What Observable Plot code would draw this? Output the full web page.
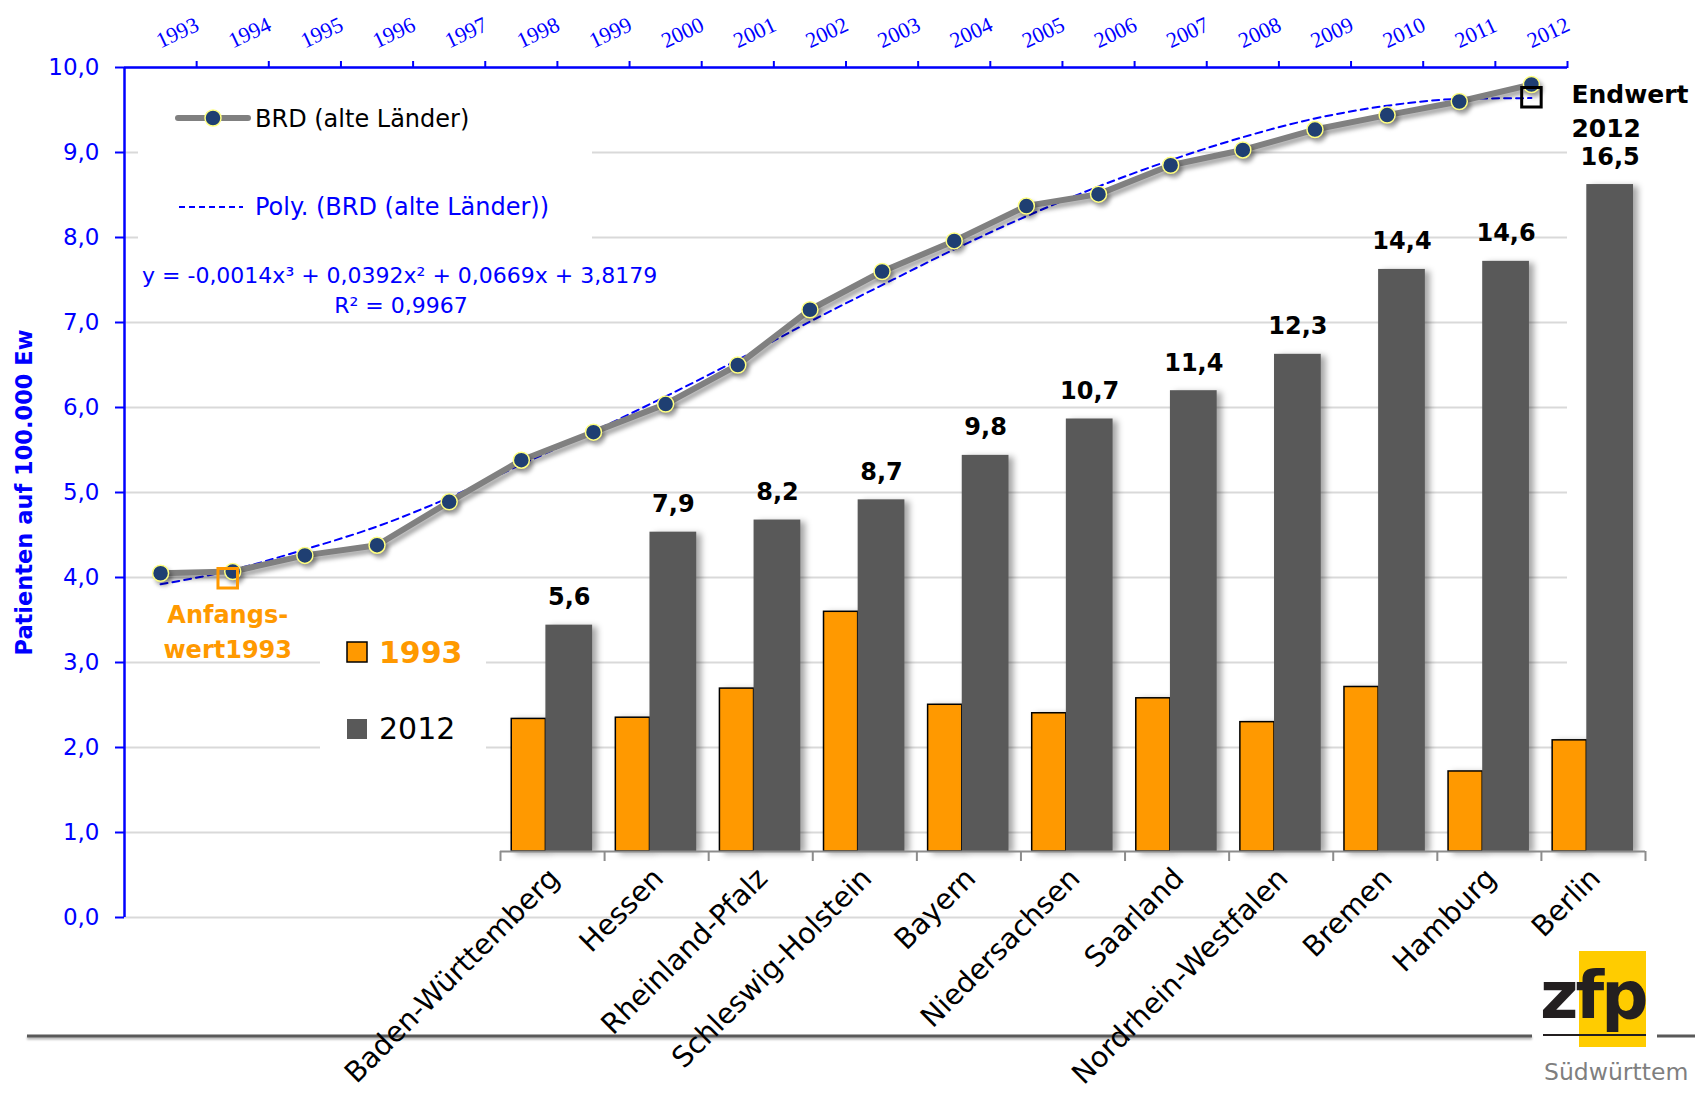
<!DOCTYPE html>
<html><head><meta charset="utf-8">
<script src="https://cdn.jsdelivr.net/npm/d3@7"></script>
<script src="https://cdn.jsdelivr.net/npm/@observablehq/plot@0.6"></script>
<style>
html,body{margin:0;padding:0;background:#fff;overflow:hidden;}
#wrap{position:relative;width:1695px;height:1102px;overflow:hidden;background:#fff;}
#wrap > svg{position:absolute;left:0;top:0;}
</style></head><body><div id="wrap"></div>
<script>
// ---------- data ----------
const years = [1993,1994,1995,1996,1997,1998,1999,2000,2001,2002,2003,2004,2005,2006,2007,2008,2009,2010,2011,2012];
const brd   = [4.05,4.07,4.26,4.38,4.89,5.38,5.71,6.04,6.50,7.15,7.60,7.96,8.37,8.51,8.85,9.03,9.27,9.44,9.60,9.80];
const trend = [3.92,4.09,4.33,4.60,4.94,5.33,5.72,6.13,6.56,7.01,7.44,7.86,8.25,8.60,8.91,9.18,9.40,9.55,9.63,9.64];
const states = ["Baden-Württemberg","Hessen","Rheinland-Pfalz","Schleswig-Holstein","Bayern","Niedersachsen","Saarland","Nordrhein-Westfalen","Bremen","Hamburg","Berlin"];
const v1993 = [3.28,3.31,4.03,5.93,3.63,3.42,3.79,3.20,4.07,1.98,2.75];
const v2012 = [5.6,7.9,8.2,8.7,9.8,10.7,11.4,12.3,14.4,14.6,16.5];
const yTicks = [0,1,2,3,4,5,6,7,8,9,10];
const lineName = "BRD (alte Länder)";
const trendName = "Poly. (BRD (alte Länder))";
const equationText = "y = -0,0014x³ + 0,0392x² + 0,0669x + 3,8179";
const r2Text = "R² = 0,9967";
const yTitle = "Patienten auf 100.000 Ew";
const startNote = [{year: 1994, value: 3.99, text: "Anfangs-\nwert1993"}];
const endNote = [{year: 2012, value: 9.65, text: "Endwert\n2012"}];
const seriesNames = ["1993","2012"];

// ---------- styles ----------
const W = 1695, H = 1102;
const BLUE = "#0000ff", ORANGE = "#ff9900", DARK = "#595959", GRID = "#d9d9d9";
const NAVY = "#1f3f72", YEL = "#ffff80";
const FONT = "DejaVu Sans";
const fmt = d => d3.format(".1f")(d).replace(".", ",");
const ORANGE_SLOT = [0.108, 0.436], GRAY_SLOT = [0.436, 0.885];

const lineData = years.map((y, i) => ({year: y, value: brd[i], trend: trend[i]}));
const boundaries = years.map(y => y + 0.5);

// ---------- plot 1: line chart ----------
const p1 = Plot.plot({
  width: W, height: H,
  marginLeft: 124, marginRight: 128, marginTop: 67, marginBottom: 185,
  style: {fontFamily: FONT, background: "transparent", overflow: "visible"},
  x: {domain: [years[0] - 0.5, years[years.length - 1] + 0.5]},
  y: {domain: [0, 10]},
  marks: [
    Plot.gridY(yTicks, {stroke: GRID, strokeWidth: 2, strokeOpacity: 1}),
    Plot.ruleX([years[0] - 0.5], {stroke: BLUE, strokeWidth: 2.5}),
    Plot.ruleY([10], {stroke: BLUE, strokeWidth: 2.5}),
    Plot.axisY(yTicks, {anchor: "left", tickSize: 9, tickPadding: 16, tickFormat: fmt, color: BLUE, strokeWidth: 2, fontSize: 23, label: null}),
    Plot.axisX(boundaries, {anchor: "top", tickSize: 7, tickFormat: () => "", color: BLUE, strokeWidth: 2, label: null}),
    Plot.text(years, {x: d => d, text: d => String(d), frameAnchor: "top", rotate: -25, textAnchor: "start", lineAnchor: "bottom", dy: -19, fill: BLUE, fontFamily: "Liberation Serif", fontSize: 22}),
    Plot.text([yTitle], {text: d => d, frameAnchor: "left", textAnchor: "middle", rotate: -90, dx: -100, fill: BLUE, fontWeight: "bold", fontSize: 22.5}),
    Plot.line(lineData, {x: "year", y: "trend", stroke: BLUE, strokeWidth: 2, strokeDasharray: "7,5", curve: "monotone-x"}),
    Plot.line(lineData, {x: "year", y: "value", stroke: "#808080", strokeWidth: 6}),
    Plot.dot(lineData, {x: "year", y: "value", r: 8, fill: NAVY, stroke: YEL, strokeWidth: 1.5}),
    Plot.dot(startNote, {x: "year", y: "value", symbol: "square", r: 11, fill: "none", stroke: ORANGE, strokeWidth: 3, dx: -5}),
    Plot.text(startNote, {x: "year", y: "value", text: "text", fill: ORANGE, fontWeight: "bold", fontSize: 24, lineAnchor: "bottom", lineHeight: 1.46, dy: 80, dx: -5}),
    Plot.dot(endNote, {x: "year", y: "value", symbol: "square", r: 11, fill: "none", stroke: "#000", strokeWidth: 3}),
    Plot.text(endNote, {x: "year", y: "value", text: "text", fill: "#000", fontWeight: "bold", fontSize: 25, textAnchor: "start", lineAnchor: "bottom", lineHeight: 1.36, dx: 40, dy: 40})
  ]
});
{
  const lines = d3.select(p1).selectAll('g[aria-label="line"]').nodes();
  if (lines[1]) d3.select(lines[1]).style("filter", "drop-shadow(3px 4px 2px rgba(0,0,0,0.35))");
  const dots = d3.select(p1).selectAll('g[aria-label="dot"]').nodes();
  if (dots[0]) d3.select(dots[0]).style("filter", "drop-shadow(3px 4px 2px rgba(0,0,0,0.35))");
}

// ---------- plot 2: bars ----------
const p2 = Plot.plot({
  width: W, height: H,
  marginLeft: 500, marginRight: 50, marginTop: 83, marginBottom: 251,
  style: {fontFamily: FONT, background: "transparent", overflow: "visible"},
  x: {domain: [0, states.length]},
  y: {domain: [0, 19], axis: null},
  marks: [
    Plot.rect(states, {x1: (d, i) => i + ORANGE_SLOT[0], x2: (d, i) => i + ORANGE_SLOT[1], y1: 0, y2: (d, i) => v1993[i], fill: ORANGE, stroke: "#000", strokeWidth: 1.5}),
    Plot.rect(states, {x1: (d, i) => i + GRAY_SLOT[0], x2: (d, i) => i + GRAY_SLOT[1], y1: 0, y2: (d, i) => v2012[i], fill: DARK}),
    Plot.ruleY([0], {stroke: "#8c8c8c", strokeWidth: 2}),
    Plot.axisX(d3.range(0, states.length + 1), {anchor: "bottom", tickSize: 10, tickFormat: () => "", color: "#8c8c8c", strokeWidth: 2, label: null}),
    Plot.text(states, {x: (d, i) => i + 0.5, y: 0, text: d => d, rotate: -45, textAnchor: "end", dy: 22, dx: 2, fontSize: 28.5, fill: "#000"}),
    Plot.text(states, {x: (d, i) => i + (GRAY_SLOT[0] + GRAY_SLOT[1]) / 2, y: (d, i) => v2012[i], text: (d, i) => fmt(v2012[i]), lineAnchor: "bottom", dy: -20, fontWeight: "bold", fontSize: 24, fill: "#000"})
  ]
});
d3.select(p2).selectAll('g[aria-label="rect"]')
  .style("filter", "drop-shadow(5px 2px 3px rgba(0,0,0,0.35))");

// ---------- legends, logo, decorations ----------
const deco = d3.create("svg").attr("width", W).attr("height", H).style("font-family", FONT);
deco.append("rect").attr("x", 138).attr("y", 80).attr("width", 454).attr("height", 238).attr("fill", "#fff");
deco.append("rect").attr("x", 320).attr("y", 615).attr("width", 166).attr("height", 170).attr("fill", "#fff");
const lg = deco.append("g");
lg.append("line").attr("x1", 178).attr("x2", 248).attr("y1", 118).attr("y2", 118).attr("stroke", "#808080").attr("stroke-width", 6).attr("stroke-linecap", "round");
lg.append("circle").attr("cx", 213).attr("cy", 118).attr("r", 8).attr("fill", NAVY).attr("stroke", YEL).attr("stroke-width", 1.5);
lg.append("text").attr("x", 255).attr("y", 127).attr("font-size", 24).attr("fill", "#000").text(lineName);
lg.append("line").attr("x1", 179).attr("x2", 243).attr("y1", 207).attr("y2", 207).attr("stroke", BLUE).attr("stroke-width", 2).attr("stroke-dasharray", "6,4");
lg.append("text").attr("x", 255).attr("y", 215).attr("font-size", 24).attr("fill", BLUE).text(trendName);
lg.append("text").attr("x", 142).attr("y", 283).attr("font-size", 22).attr("fill", BLUE).text(equationText);
lg.append("text").attr("x", 401).attr("y", 313).attr("font-size", 22).attr("fill", BLUE).attr("text-anchor", "middle").text(r2Text);
const bl = deco.append("g");
bl.append("rect").attr("x", 347).attr("y", 642).attr("width", 20).attr("height", 20).attr("fill", ORANGE).attr("stroke", "#000").attr("stroke-width", 1.5);
bl.append("text").attr("x", 379).attr("y", 663).attr("font-size", 30).attr("font-weight", "bold").attr("fill", ORANGE).text(seriesNames[0]);
bl.append("rect").attr("x", 347).attr("y", 719).attr("width", 20).attr("height", 20).attr("fill", DARK);
bl.append("text").attr("x", 379).attr("y", 739).attr("font-size", 30).attr("fill", "#000").text(seriesNames[1]);
// bottom rule + logo
deco.append("line").attr("x1", 27).attr("x2", 1532).attr("y1", 1036).attr("y2", 1036).attr("stroke", DARK).attr("stroke-width", 3).style("filter", "drop-shadow(0px 2px 1px rgba(0,0,0,0.3))");
deco.append("line").attr("x1", 1657).attr("x2", 1695).attr("y1", 1036).attr("y2", 1036).attr("stroke", DARK).attr("stroke-width", 3);
deco.append("rect").attr("x", 1579).attr("y", 951).attr("width", 67).attr("height", 96).attr("fill", "#ffcc00");
deco.append("text").attr("x", 1540).attr("y", 1018).attr("font-size", 66).attr("font-weight", "bold").attr("letter-spacing", -3).attr("fill", "#231f20").text("zfp");
deco.append("line").attr("x1", 1543).attr("x2", 1646).attr("y1", 1035).attr("y2", 1035).attr("stroke", "#231f20").attr("stroke-width", 2);
deco.append("text").attr("x", 1544).attr("y", 1080).attr("font-size", 23.5).attr("fill", "#7f7f7f").text("Südwürttem");

const wrap = document.getElementById("wrap");
wrap.appendChild(p1);
wrap.appendChild(deco.node());
wrap.appendChild(p2);
</script></body></html>
